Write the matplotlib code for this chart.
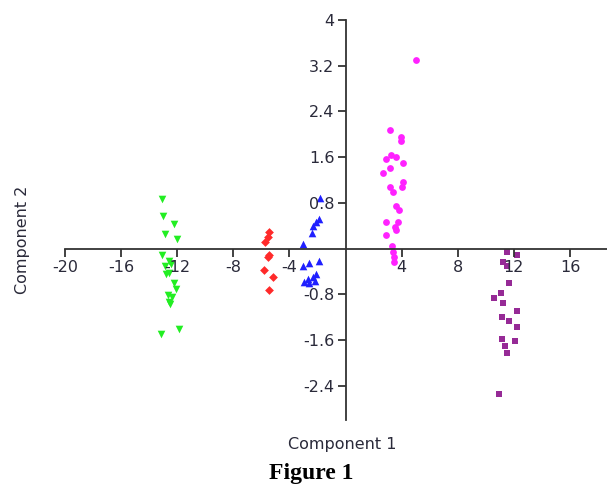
import matplotlib.pyplot as plt
import numpy as np

plt.rcParams['font.family'] = ['DejaVu Sans']
plt.rcParams['axes.unicode_minus'] = False

# group scores (Component 1, Component 2)
green_x = [-13.05, -12.98, -12.26, -12.86, -11.98, -13.05, -12.62, -12.45, -12.62, -12.81,
           -12.09, -12.69, -12.34, -12.57, -12.5, -11.9, -13.17, -12.9, -12.2]
green_y = [0.87, 0.57, 0.43, 0.26, 0.17, -0.12, -0.21, -0.27, -0.42, -0.44,
           -0.71, -0.82, -0.85, -0.94, -0.97, -1.41, -1.5, -0.3, -0.6]

red_x = [-5.48, -5.71, -5.43, -5.55, -5.83, -5.19, -5.43, -5.5]
red_y = [0.29, 0.11, -0.12, -0.14, -0.37, -0.49, -0.72, 0.2]

blue_x = [-1.81, -1.86, -2.09, -2.29, -2.38, -3.0, -1.86, -2.57, -3.0, -2.33,
          -2.69, -2.93, -2.21, -2.57, -2.1]
blue_y = [0.89, 0.52, 0.46, 0.4, 0.27, 0.08, -0.21, -0.26, -0.3, -0.5,
          -0.53, -0.59, -0.56, -0.6, -0.45]

magenta_x = [5.0, 3.19, 3.98, 3.98, 3.26, 3.62, 2.9, 4.1, 3.14, 2.67, 3.14, 4.1, 4.05,
             3.38, 3.62, 3.81, 2.9, 3.74, 3.5, 3.6, 2.9, 3.33, 3.38, 3.43, 3.43]
magenta_y = [3.3, 2.07, 1.95, 1.89, 1.63, 1.61, 1.57, 1.5, 1.41, 1.33, 1.08, 1.16, 1.08,
             0.99, 0.75, 0.67, 0.46, 0.46, 0.37, 0.33, 0.23, 0.05, -0.06, -0.15, -0.24]

purple_x = [11.48, 12.19, 11.24, 11.48, 11.67, 11.05, 10.57, 11.24, 12.24, 11.19, 11.67,
            12.24, 11.19, 12.07, 11.36, 11.48, 10.95]
purple_y = [-0.06, -0.12, -0.24, -0.3, -0.61, -0.78, -0.87, -0.95, -1.09, -1.2, -1.27,
            -1.37, -1.58, -1.61, -1.7, -1.83, -2.54]

x_ticks = [-20, -16, -12, -8, -4, 4, 8, 12, 16]
y_ticks = [-2.4, -1.6, -0.8, 0.8, 1.6, 2.4, 3.2, 4]

fig = plt.figure(figsize=(6.07, 4.88), dpi=100)
ax = fig.add_axes([65 / 607, 68 / 488, 542 / 607, 400 / 488])

ax.scatter(green_x, green_y, marker='v', s=30, color='#22ee22', linewidths=0)
ax.scatter(red_x, red_y, marker='D', s=20, color='#ff2a2a', linewidths=0)
ax.scatter(blue_x, blue_y, marker='^', s=30, color='#2020ff', linewidths=0)
ax.scatter(magenta_x, magenta_y, marker='o', s=24, color='#ff22ff', linewidths=0)
ax.scatter(purple_x, purple_y, marker='s', s=24, color='#962a96', linewidths=0)

ax.set_xlim(-20, 18.64)
ax.set_ylim(-3, 4)
for side in ['top', 'right']:
    ax.spines[side].set_visible(False)
ax.spines['left'].set_position('zero')
ax.spines['bottom'].set_position('zero')
ax.spines['left'].set_color('#333333')
ax.spines['bottom'].set_color('#333333')
ax.spines['left'].set_linewidth(1.3)
ax.spines['bottom'].set_linewidth(1.3)

ax.set_xticks(x_ticks)
ax.set_xticklabels([str(v) for v in x_ticks])
ax.set_yticks(y_ticks)
ax.set_yticklabels(['%g' % v for v in y_ticks])
ax.tick_params(axis='both', direction='out', length=6, width=1.3, colors='#333333',
               labelsize=11.5, labelcolor='#2a2a3a', pad=2)

fig.text(342 / 607, 1 - 445 / 488, 'Component 1', ha='center', va='center',
         fontsize=11.5, color='#2a2a3a')
fig.text(23 / 607, 1 - 240 / 488, 'Component 2', ha='center', va='center',
         rotation=90, fontsize=11.5, color='#2a2a3a')
fig.text(311 / 607, 1 - 474 / 488, 'Figure 1', ha='center', va='center',
         fontsize=17, fontweight='bold', family=['Liberation Serif', 'DejaVu Serif'])

fig.savefig('out.png', dpi=100)
